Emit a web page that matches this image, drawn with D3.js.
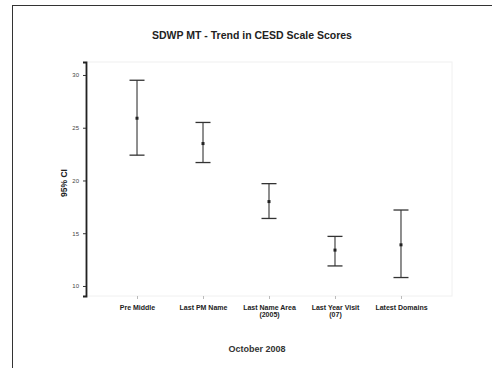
<!DOCTYPE html>
<html>
<head>
<meta charset="utf-8">
<script src="https://cdn.jsdelivr.net/npm/d3@7"></script>
<style>
  body { margin: 0; background: #fff; }
  svg { display: block; font-family: "Liberation Sans", Arial, sans-serif; }
</style>
</head>
<body>
<svg id="chart" width="492" height="368"></svg>
<script>
// categories on the x axis (first and last label lines)
const categories = ["Pre Middle", "Last PM Name", "Last Name Area", "Last Year Visit", "Latest Domains"];
const subLabels = ["", "", "(2005)", "(07)", ""];
// CESD means and 95% CI bounds
const means = [25.9, 23.5, 18.0, 13.4, 13.9];
const lower = [22.4, 21.7, 16.4, 11.9, 10.8];
const upper = [29.5, 25.5, 19.7, 14.7, 17.2];
const yTicks = [10, 15, 20, 25, 30];

const svg = d3.select("#chart");
const plotL = 86, plotR = 452, plotT = 62, plotB = 296;

// outer frame
svg.append("rect")
  .attr("x", 12.5).attr("y", 5.5)
  .attr("width", 600).attr("height", 600)
  .attr("fill", "none").attr("stroke", "#333").attr("stroke-width", 1);

// faint plot box
svg.append("rect")
  .attr("x", plotL).attr("y", plotT)
  .attr("width", plotR - plotL).attr("height", plotB - plotT)
  .attr("fill", "none").attr("stroke", "#f0f0f0");

const x = d3.scalePoint().domain(categories).range([plotL, plotR]).padding(0.773);
const y = d3.scaleLinear().domain([9.05, 31.23]).range([plotB, plotT]);

// y axis
const yAxis = svg.append("g")
  .attr("transform", `translate(${plotL},0)`)
  .call(d3.axisLeft(y).tickValues(yTicks).tickSize(3).tickPadding(4).tickFormat(d3.format("d")));
yAxis.select(".domain").attr("stroke", "#222").attr("stroke-width", 1.8);
yAxis.selectAll(".tick line").attr("stroke", "#333");
yAxis.selectAll("text").attr("font-size", 6).attr("fill", "#444");

// x axis (ticks only, no line)
const xAxis = svg.append("g")
  .attr("transform", `translate(0,${plotB})`)
  .call(d3.axisBottom(x).tickSize(3).tickPadding(6));
xAxis.select(".domain").remove();
xAxis.selectAll(".tick line").attr("stroke", "#bbb");
xAxis.selectAll(".tick text")
  .attr("font-size", 7).attr("font-weight", "bold").attr("fill", "#222")
  .each(function (d, i) {
    if (subLabels[i]) {
      d3.select(this).append("tspan")
        .attr("x", 0).attr("dy", "1.05em").text(subLabels[i]);
    }
  });

// error bars
const capW = 15;
const g = svg.append("g");
categories.forEach((c, i) => {
  const cx = x(c);
  g.append("line")
    .attr("x1", cx).attr("x2", cx)
    .attr("y1", y(upper[i])).attr("y2", y(lower[i]))
    .attr("stroke", "#444").attr("stroke-width", 1.2);
  [upper[i], lower[i]].forEach(v => {
    g.append("line")
      .attr("x1", cx - capW / 2).attr("x2", cx + capW / 2)
      .attr("y1", y(v)).attr("y2", y(v))
      .attr("stroke", "#333").attr("stroke-width", 1.3);
  });
  g.append("rect")
    .attr("x", cx - 1.5).attr("y", y(means[i]) - 1.5)
    .attr("width", 3).attr("height", 3)
    .attr("fill", "#222");
});

// title
svg.append("text")
  .attr("x", 252).attr("y", 39)
  .attr("text-anchor", "middle")
  .attr("font-size", 10.5).attr("font-weight", "bold").attr("fill", "#222")
  .text("SDWP MT - Trend in CESD Scale Scores");

// y label
svg.append("text")
  .attr("transform", `translate(67,183) rotate(-90)`)
  .attr("text-anchor", "middle")
  .attr("font-size", 8.5).attr("font-weight", "bold").attr("fill", "#222")
  .text("95% CI");

// x label
svg.append("text")
  .attr("x", 257).attr("y", 352)
  .attr("text-anchor", "middle")
  .attr("font-size", 9).attr("font-weight", "bold").attr("fill", "#333")
  .text("October 2008");
</script>
</body>
</html>
